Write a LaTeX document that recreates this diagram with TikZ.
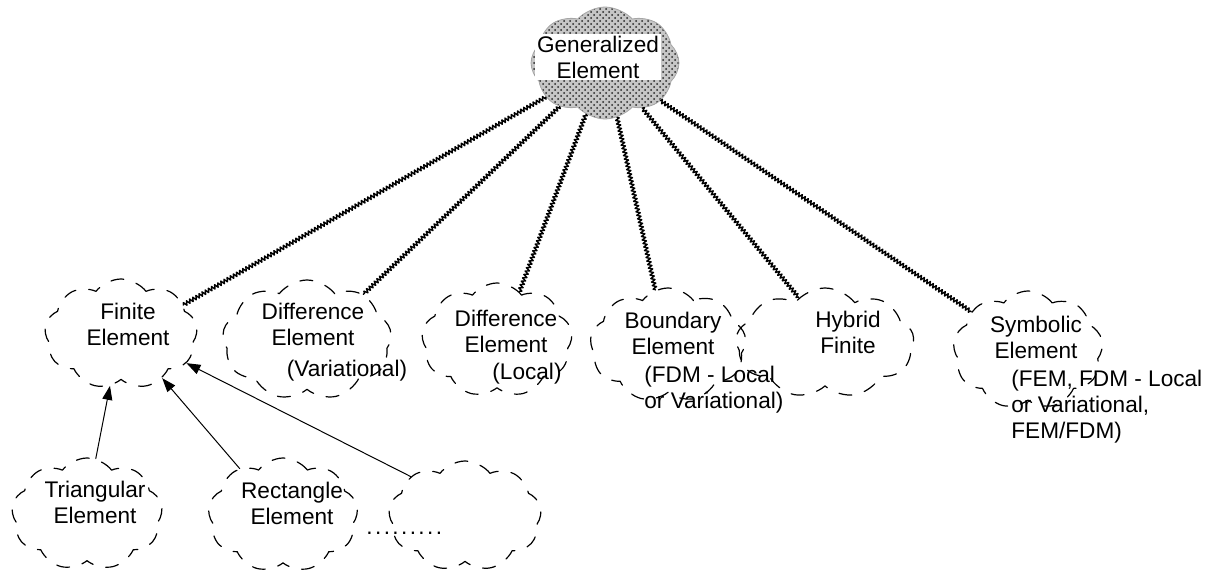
\documentclass[tikz,border=0pt]{standalone}
\usepackage{fontspec}
\setmainfont{Liberation Sans}
\usetikzlibrary{shapes.symbols,patterns,arrows.meta,decorations.pathmorphing}
\begin{document}
\begin{tikzpicture}[x=0.5pt,y=-0.5pt,>={Triangle[length=7pt,width=5pt]},line join=round,line cap=round]
	\tikzset{cls/.style={cloud,cloud puffs=9,cloud puff arc=105,cloud ignores aspect,draw,dash pattern=on 6.5pt off 6.5pt,line width=0.6pt,inner sep=0pt},
		gencls/.style={cloud,cloud puffs=8,cloud puff arc=95,cloud ignores aspect,draw=gray!70,preaction={fill=gray!45},pattern=crosshatch dots,pattern color=black!85,inner sep=0pt},
		lbl/.style={font=\fontsize{11.3}{13}\selectfont,align=center,inner sep=0pt},
		note/.style={lbl,align=left,anchor=west},
		has/.style={decorate,decoration={zigzag,amplitude=1pt,segment length=1.8pt},line width=0.7pt}}
	\useasboundingbox (0,0) rectangle (1221,573);
	%% lop tong quat
	\node[gencls,minimum width=74pt,minimum height=56pt] (gen) at (605,63) {};
	\node[lbl,fill=white,inner sep=1pt] (genT) at (598,57) {Generalized\\Element};
	%% cac lop con
	\node[cls,minimum width=76.5pt,minimum height=55pt] (fin) at (121,334) {};
	\node[lbl] (finT) at (128,324) {Finite\\Element};
	\node[cls,minimum width=84.5pt,minimum height=60pt] (dvar) at (307,340) {};
	\node[lbl] (dvarT) at (313,324) {Difference\\Element};
	\node[lbl] (dvarN) at (347,371) {(Variational)};
	\node[cls,minimum width=75.5pt,minimum height=57pt] (dloc) at (497,340) {};
	\node[lbl] (dlocT) at (506,331) {Difference\\Element};
	\node[lbl] (dlocN) at (527,374) {(Local)};
	\node[cls,minimum width=78pt,minimum height=57pt] (bnd) at (668,345) {};
	\node[lbl] (bndT) at (673,333) {Boundary\\Element};
	\node[note] (bndN) at (644,390) {(FDM - Local\\or Variational)};
	\node[cls,minimum width=89pt,minimum height=55pt] (hyb) at (825,343) {};
	\node[lbl] (hybT) at (848,332) {Hybrid\\Finite};
	\node[cls,minimum width=75pt,minimum height=59pt] (sym) at (1028,350) {};
	\node[lbl] (symT) at (1036,337) {Symbolic\\Element};
	\node[note] (symN) at (1011,407) {(FEM, FDM - Local\\or Variational,\\FEM/FDM)};
	%% hang duoi
	\node[cls,minimum width=75.5pt,minimum height=56pt] (tri) at (87,514) {};
	\node[lbl] (triT) at (95,502) {Triangular\\Element};
	\node[cls,minimum width=75pt,minimum height=57pt] (rect) at (283,515) {};
	\node[lbl] (rectT) at (292,503) {Rectangle\\Element};
	\node[cls,minimum width=76.5pt,minimum height=55pt] (etc) at (465,516) {};
	\node[lbl,anchor=base west] (dots) at (366,534) {.\kern1.2pt.\kern1.2pt.\kern1.2pt.\kern1.2pt.\kern1.2pt.\kern1.2pt.\kern1.2pt.\kern1.2pt.};
	%% duong noi
	\draw[has] (gen) -- (fin.25);
	\draw[has] (gen) -- (dvar.39);
	\draw[has] (gen) -- (dloc.65);
	\draw[has] (gen) -- (bnd.103);
	\draw[has] (gen) -- (hyb.120);
	\draw[has] (gen) -- (sym.146);
	\draw[->,line width=0.5pt] (tri.81) -- (fin.258);
	\draw[->,line width=0.5pt] (rect.133) -- (fin.313);
	\draw[->,line width=0.5pt] (etc.144) -- (fin.336);
\end{tikzpicture}
\end{document}
